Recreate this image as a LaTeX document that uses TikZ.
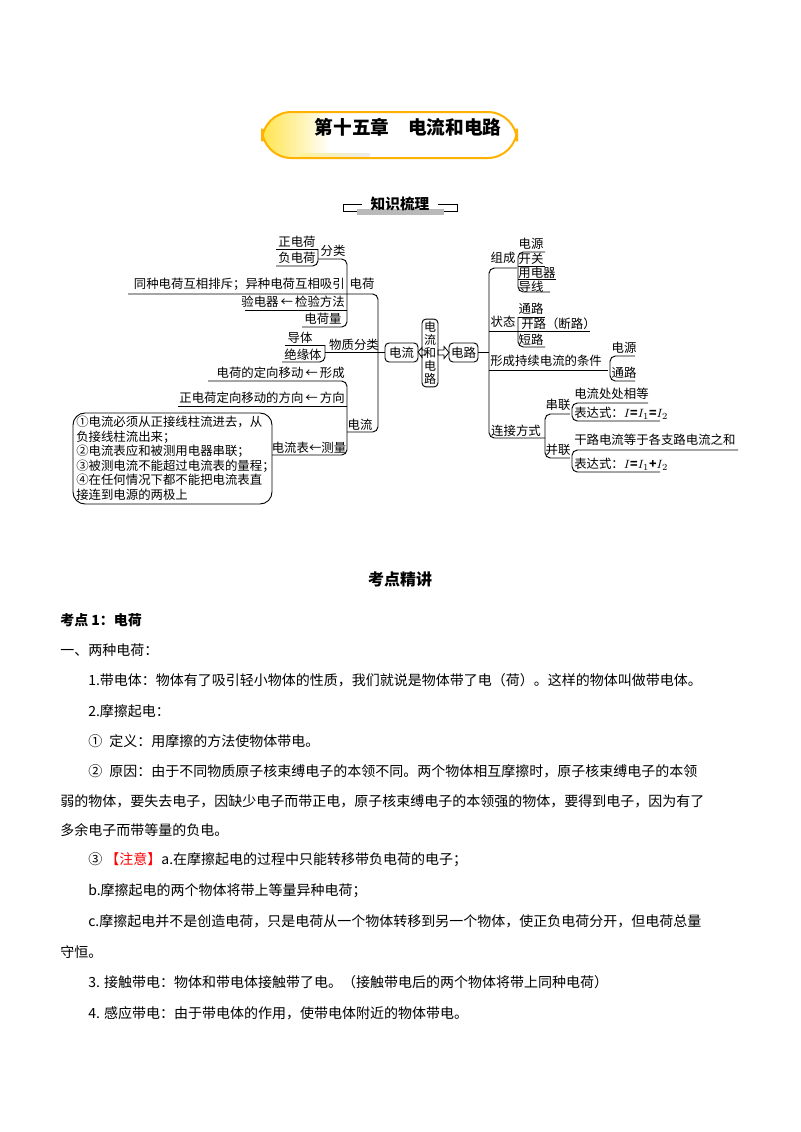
\documentclass[tikz,border=0pt]{standalone}
\usepackage{fontspec}
\setmainfont{Noto Sans CJK SC}
\begin{document}
\begin{tikzpicture}[x=0.75pt,y=-0.75pt,
  mm/.style={inner sep=0pt,font=\fontsize{9.3}{11}\selectfont},
  ln/.style={line width=0.7pt,rounded corners=4pt},
  bx/.style={draw,line width=0.7pt,rounded corners=3pt},
  body/.style={inner sep=0pt,anchor=west,font=\fontsize{10.5}{12}\selectfont}]
\useasboundingbox (0,0) rectangle (800,1132);
\fill[white] (0,0) rectangle (800,1132);
% title
\begin{scope}
\clip[rounded corners=22pt] (262,112) rectangle (517,158);
\shade[left color=orange!30!yellow!70, right color=white] (262,112) rectangle (330,158);
\shade[left color=orange!25!yellow!40, right color=gray!15] (300,153) rectangle (370,158);
\end{scope}
\draw[rounded corners=22pt,draw=orange!60!yellow,line width=1.5pt] (262,112) rectangle (517,158);
\node[inner sep=0pt,font=\fontsize{14}{16}\selectfont\bfseries] (title) at (408,127) {第十五章\quad 电流和电路};
% 知识梳理
\fill[gray!55] (357,209) rectangle (444,215);
\draw[line width=0.6pt] (362,204)--(343,204)--(343,211)--(357,211);
\draw[line width=0.6pt] (438,204)--(457,204)--(457,211)--(444,211);
\node[inner sep=0pt,font=\fontsize{11}{13}\selectfont\bfseries] (zs) at (400,204) {知识梳理};
% ---- left mind map
\node[mm] (a1) at (297,242) {正电荷};
\node[mm] (a2) at (297,258) {负电荷};
\node[mm] (a3) at (333,251) {分类};
\node[mm,anchor=east] (a4) at (345,284) {同种电荷互相排斥；异种电荷互相吸引};
\node[mm] (a5) at (362,284) {电荷};
\node[mm,anchor=east] (a6) at (345,302) {验电器\,←\,检验方法};
\node[mm] (a7) at (323,319) {电荷量};
\node[mm] (a8) at (300,338) {导体};
\node[mm] (a9) at (303,355) {绝缘体};
\node[mm] (a10) at (354,345) {物质分类};
\node[mm,anchor=east] (a11) at (345,373) {电荷的定向移动\,←\,形成};
\node[mm,anchor=east] (a12) at (345,398) {正电荷定向移动的方向\,←\,方向};
\node[mm] (a13) at (360,425) {电流};
\node[mm] (a14) at (309,448) {电流表←测量};
\draw[ln] (276,249)--(318,249);
\draw[ln] (318,249)--(318,266)--(276,266);
\draw[ln] (318,259)--(347,259)--(347,327)--(302,327);
\draw[ln] (245,310)--(347,310);
\draw[ln] (128,294)--(378,294)--(378,432)--(347,432);
\draw[ln] (285,345)--(325,345);
\draw[ln] (325,345)--(325,362)--(282,362);
\draw[ln] (325,352)--(385,352);
\draw[ln] (208,381)--(347,381)--(347,455)--(272,455);
\draw[ln] (178,406)--(347,406);
\draw[line width=0.7pt,rounded corners=9pt] (73,413) rectangle (272,504);
\node[inner sep=0pt,anchor=north west,align=left,font=\fontsize{9.3}{10.9}\selectfont] (nb) at (76,416) {①电流必须从正接线柱流进去，从\\负接线柱流出来；\\②电流表应和被测用电器串联；\\③被测电流不能超过电流表的量程；\\④在任何情况下都不能把电流表直\\接连到电源的两极上};
% centre
\node[bx,minimum width=33pt*0.75,minimum height=19pt*0.75,inner sep=1pt,mm] (dl) at (401.5,352.5) {电流};
\draw[line width=0.6pt] (418,352)--(422,347.5)--(422,350)--(425,350)--(425,355)--(422,355)--(422,357.5)--cycle;
\node[bx,inner sep=1.5pt,align=center,font=\fontsize{9}{9.9}\selectfont] (cm) at (430,353) {电\\流\\和\\电\\路};
\draw[line width=0.6pt] (438,350)--(444,350)--(444,346.5)--(449,352.5)--(444,358.5)--(444,355)--(438,355)--cycle;
\node[bx,minimum width=29pt*0.75,minimum height=19pt*0.75,inner sep=1pt,mm] (dr) at (463.5,352.5) {电路};
% ---- right mind map
\draw[ln] (dr.east)--(489,352.5);
\draw[ln] (517,268)--(489,268)--(489,438)--(545,438);
\draw[ln] (489,331)--(590,331);
\draw[ln] (489,370)--(608,370);
\node[mm] (b1) at (503,258) {组成};
\node[mm] (b2) at (531,244) {电源};
\node[mm] (b3) at (531,259) {开关};
\node[mm] (b4) at (537,273) {用电器};
\node[mm] (b5) at (531,287) {导线};
\draw[ln] (545,252)--(518,252)--(518,292)--(550,292);
\draw[ln] (518,266)--(545,266);
\draw[ln] (518,279)--(556,279);
\node[mm] (c1) at (503,322) {状态};
\node[mm] (c2) at (531,309) {通路};
\node[mm,anchor=west] (c3) at (521,324) {开路（断路）};
\node[mm] (c4) at (531,340) {短路};
\draw[ln] (518,317)--(545,317);
\draw[ln] (518,317)--(518,347)--(545,347);
\node[mm,anchor=west] (d1) at (490,361) {形成持续电流的条件};
\node[mm] (d2) at (624,348) {电源};
\node[mm] (d3) at (624,373) {通路};
\draw[ln] (635,356)--(610,356)--(610,381)--(635,381);
\node[mm] (e1) at (516,431) {连接方式};
\draw[ln] (570,414)--(545,414)--(545,458)--(570,458);
\node[mm] (e2) at (558,405) {串联};
\node[mm] (e3) at (558,450) {并联};
\node[mm,anchor=west] (e4) at (574,394) {电流处处相等};
\node[mm,anchor=west] (e5) at (574,413) {表达式：\textbf{$I$=$I_1$=$I_2$}};
\draw[ln] (648,403)--(572,403)--(572,421)--(660,421);
\node[mm,anchor=west] (e6) at (574,440) {干路电流等于各支路电流之和};
\node[mm,anchor=west] (e7) at (574,464) {表达式：\textbf{$I$=$I_1$+$I_2$}};
\draw[ln] (738,450)--(572,450)--(572,472)--(660,472);
% ---- body
\node[inner sep=0pt,font=\fontsize{12}{14}\selectfont\bfseries] (kd) at (400,579) {考点精讲};
\node[body,font=\fontsize{10.5}{12}\selectfont\bfseries] (t1) at (60,620) {考点 1：电荷};
\node[body] (t2) at (60,650) {一、两种电荷：};
\node[body] (t3) at (88,680) {1.带电体：物体有了吸引轻小物体的性质，我们就说是物体带了电（荷）。这样的物体叫做带电体。};
\node[body] (t4) at (88,711) {2.摩擦起电：};
\node[body] (t5) at (88,741) {①\enspace 定义：用摩擦的方法使物体带电。};
\node[body] (t6) at (88,771) {②\enspace 原因：由于不同物质原子核束缚电子的本领不同。两个物体相互摩擦时，原子核束缚电子的本领};
\node[body] (t7) at (60,801) {弱的物体，要失去电子，因缺少电子而带正电，原子核束缚电子的本领强的物体，要得到电子，因为有了};
\node[body] (t8) at (60,830) {多余电子而带等量的负电。};
\node[body] (t9) at (88,860) {③ \textcolor{red}{【注意】}\textit{a}.在摩擦起电的过程中只能转移带负电荷的电子；};
\node[body] (t10) at (88,891) {\textit{b}.摩擦起电的两个物体将带上等量异种电荷；};
\node[body] (t11) at (88,921) {\textit{c}.摩擦起电并不是创造电荷，只是电荷从一个物体转移到另一个物体，使正负电荷分开，但电荷总量};
\node[body] (t12) at (60,952) {守恒。};
\node[body] (t13) at (88,982) {3. 接触带电：物体和带电体接触带了电。（接触带电后的两个物体将带上同种电荷）};
\node[body] (t14) at (88,1013) {4. 感应带电：由于带电体的作用，使带电体附近的物体带电。};
\end{tikzpicture}
\end{document}
